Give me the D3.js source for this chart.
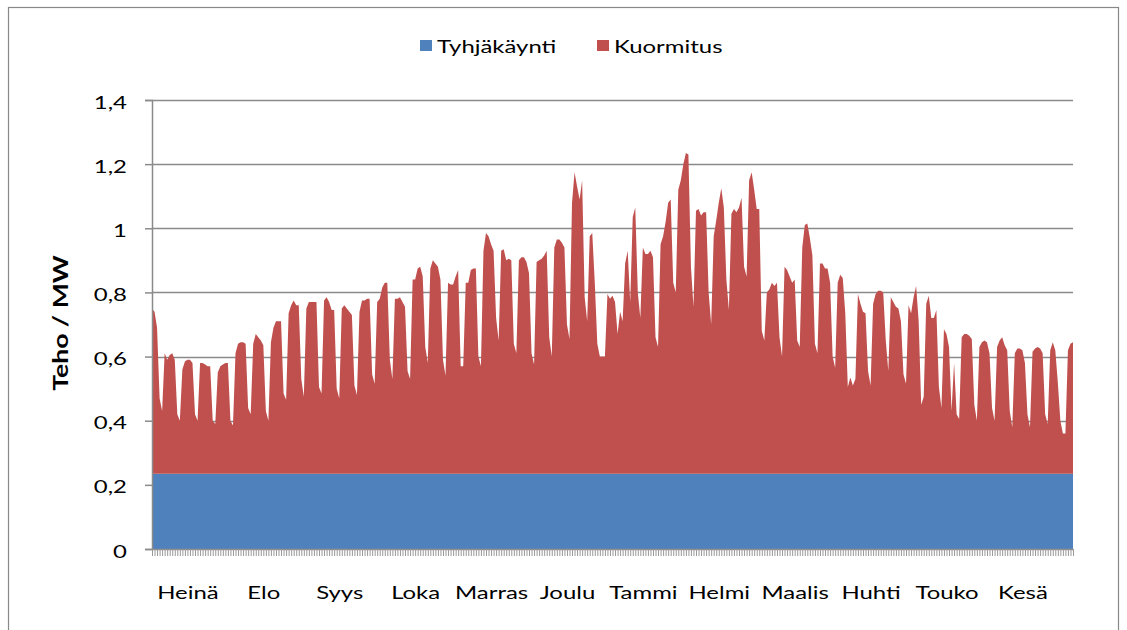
<!DOCTYPE html>
<html>
<head>
<meta charset="utf-8">
<script src="https://cdn.jsdelivr.net/npm/d3@7/dist/d3.min.js"></script>
<style>
  body { margin: 0; background: #fff; }
  text { font-family: Lato, "Open Sans", sans-serif; fill: #000; }
</style>
</head>
<body>
<script>
// tyhjäkäyntiteho (vakio) ja päivittäiset kokonaistehot 1.7.–30.6. (MW)
const tyhjakaynti = 0.235;
const kokonaisteho = [
  0.75, 0.74, 0.69, 0.47, 0.43,                 // ke 1.7. - su 5.7.
  0.61, 0.59, 0.605, 0.61, 0.59, 0.42, 0.40,
  0.56, 0.585, 0.59, 0.59, 0.58, 0.42, 0.40,
  0.58, 0.58, 0.575, 0.57, 0.57, 0.40, 0.39,
  0.55, 0.57, 0.575, 0.58, 0.58, 0.40, 0.385,
  0.61, 0.64, 0.645, 0.645, 0.64, 0.44, 0.42,   // elo
  0.64, 0.67, 0.66, 0.65, 0.635, 0.43, 0.40,
  0.645, 0.69, 0.71, 0.71, 0.71, 0.485, 0.465,
  0.735, 0.76, 0.775, 0.76, 0.76, 0.53, 0.475,
  0.75, 0.77, 0.77, 0.77, 0.77, 0.505, 0.485,   // syys
  0.775, 0.785, 0.77, 0.745, 0.745, 0.50, 0.47,
  0.75, 0.76, 0.75, 0.74, 0.73, 0.51, 0.48,
  0.74, 0.775, 0.775, 0.78, 0.78, 0.545, 0.515,
  0.77, 0.78, 0.815, 0.83, 0.83, 0.59, 0.53,
  0.78, 0.78, 0.785, 0.77, 0.755, 0.555, 0.53,  // loka
  0.84, 0.84, 0.875, 0.88, 0.85, 0.63, 0.58,
  0.875, 0.90, 0.89, 0.88, 0.84, 0.59, 0.54,
  0.83, 0.825, 0.825, 0.85, 0.87, 0.57, 0.57,
  0.83, 0.83, 0.87, 0.875, 0.875, 0.60, 0.57,   // marras
  0.93, 0.985, 0.975, 0.95, 0.93, 0.72, 0.65,
  0.93, 0.935, 0.90, 0.905, 0.90, 0.64, 0.61,
  0.90, 0.91, 0.91, 0.895, 0.86, 0.61, 0.575,
  0.895, 0.90, 0.905, 0.915, 0.93, 0.66, 0.60,
  0.94, 0.965, 0.965, 0.955, 0.94, 0.70, 0.655, // joulu
  1.08, 1.175, 1.13, 1.09, 1.15, 0.785, 0.71,
  0.975, 0.985, 0.83, 0.64, 0.60, 0.60, 0.60,
  0.795, 0.78, 0.79, 0.77, 0.67, 0.74, 0.71,
  0.89, 0.93, 0.77, 1.035, 1.065, 0.80, 0.72,   // tammi
  0.94, 0.92, 0.92, 0.93, 0.91, 0.66, 0.63,
  0.95, 0.975, 1.02, 1.08, 1.09, 0.83, 0.80,
  1.12, 1.15, 1.20, 1.235, 1.23, 0.88, 0.755,
  1.055, 1.06, 1.04, 1.05, 1.05, 0.80, 0.70,    // helmi
  0.975, 1.025, 1.08, 1.125, 1.065, 0.84, 0.745,
  1.045, 1.06, 1.05, 1.065, 1.095, 0.88, 0.85,
  1.15, 1.175, 1.12, 1.06, 1.06, 0.68, 0.65,
  0.80, 0.81, 0.83, 0.82, 0.83, 0.66, 0.60,     // maalis
  0.88, 0.87, 0.85, 0.83, 0.84, 0.65, 0.63,
  0.94, 1.01, 1.015, 0.97, 0.915, 0.64, 0.61,
  0.89, 0.89, 0.875, 0.875, 0.83, 0.60, 0.565,
  0.83, 0.855, 0.845, 0.735, 0.505, 0.535, 0.51,
  0.53, 0.795, 0.765, 0.74, 0.735, 0.555, 0.51, // huhti
  0.765, 0.795, 0.805, 0.805, 0.80, 0.65, 0.555,
  0.785, 0.77, 0.755, 0.75, 0.71, 0.545, 0.515,
  0.76, 0.735, 0.785, 0.82, 0.71, 0.45, 0.475,
  0.765, 0.79, 0.72, 0.72, 0.745, 0.505, 0.44,  // touko
  0.685, 0.67, 0.63, 0.43, 0.58, 0.42, 0.405,
  0.66, 0.67, 0.67, 0.665, 0.655, 0.45, 0.40,
  0.63, 0.645, 0.65, 0.645, 0.61, 0.44, 0.40,
  0.63, 0.65, 0.66, 0.635, 0.62, 0.43, 0.38,
  0.61, 0.625, 0.625, 0.62, 0.58, 0.42, 0.38,   // kesä
  0.615, 0.625, 0.63, 0.625, 0.61, 0.42, 0.39,
  0.62, 0.645, 0.62, 0.52, 0.40, 0.36, 0.36,
  0.62, 0.64, 0.645
];
const kuukaudet = ["Heinä", "Elo", "Syys", "Loka", "Marras", "Joulu",
  "Tammi", "Helmi", "Maalis", "Huhti", "Touko", "Kesä"];
const tunnistePaivat = [14, 44, 74, 104, 134, 164, 194, 224, 254, 284, 314, 344];
const yTikit = [0, 0.2, 0.4, 0.6, 0.8, 1, 1.2, 1.4];
const sarjat = ["Tyhjäkäynti", "Kuormitus"];
const varit = ["#4F81BD", "#C0504D"];

const width = 1127, height = 630;
const plot = { left: 152, right: 1073, top: 100, bottom: 549 };
const venytys = 1.33;   // kuvan tekstit ovat venyneitä
const fontSize = 18;

const svg = d3.select("body").append("svg")
  .attr("width", width)
  .attr("height", height);

// kaavion reunus
svg.append("rect")
  .attr("x", 8.5).attr("y", 7.5)
  .attr("width", 1110).attr("height", 650)
  .attr("fill", "none")
  .attr("stroke", "#888")
  .attr("stroke-width", 1.2);

const rivit = kokonaisteho.map((v, i) => ({
  paiva: i,
  "Tyhjäkäynti": tyhjakaynti,
  "Kuormitus": v - tyhjakaynti
}));

const xScale = d3.scaleLinear()
  .domain([0, rivit.length - 1])
  .range([plot.left, plot.right]);
const yScale = d3.scaleLinear()
  .domain([0, 1.4])
  .range([plot.bottom, plot.top]);

const fi = d3.formatLocale({ decimal: ",", thousands: " ", grouping: [3], currency: ["", " €"] });
const yFormat = fi.format(".1~f");

// vaakaviivasto
svg.append("g")
  .selectAll("line")
  .data(yTikit.filter(d => d > 0))
  .join("line")
  .attr("x1", plot.left).attr("x2", plot.right)
  .attr("y1", d => Math.round(yScale(d)) + 0.5)
  .attr("y2", d => Math.round(yScale(d)) + 0.5)
  .attr("stroke", "#8a8a8a")
  .attr("stroke-width", 1.5);

// pinotut alueet
const pino = d3.stack().keys(sarjat)(rivit);
const alue = d3.area()
  .x(d => xScale(d.data.paiva))
  .y0(d => yScale(d[0]))
  .y1(d => yScale(d[1]));

svg.append("g")
  .selectAll("path")
  .data(pino)
  .join("path")
  .attr("fill", (d, i) => varit[i])
  .attr("d", alue);

// y-akseli
const yAxis = svg.append("g")
  .attr("transform", `translate(${plot.left},0)`)
  .call(d3.axisLeft(yScale).tickValues(yTikit).tickSize(7).tickFormat(yFormat));
yAxis.select(".domain").attr("stroke", "#8a8a8a").attr("stroke-width", 1.5);
yAxis.selectAll(".tick line").attr("stroke", "#8a8a8a").attr("stroke-width", 1.5);
yAxis.selectAll(".tick text")
  .attr("x", 0).attr("dy", null).attr("y", 8)
  .attr("transform", `translate(-25,0) scale(${venytys},1)`)
  .style("font-size", fontSize + "px")
  .style("font-family", null);

// x-akseli: tikki joka päivälle
const xAxis = svg.append("g")
  .attr("transform", `translate(0,${plot.bottom})`)
  .call(d3.axisBottom(xScale).tickValues(d3.range(rivit.length)).tickSize(7).tickSizeOuter(0).tickFormat(""));
xAxis.select(".domain").attr("stroke", "#8a8a8a").attr("stroke-width", 1.5);
xAxis.selectAll(".tick line").attr("stroke", "#999");

// kuukausien nimet
const xLabels = svg.append("g")
  .attr("transform", `translate(0,${plot.bottom})`)
  .call(d3.axisBottom(xScale).tickValues(tunnistePaivat).tickSize(0)
    .tickFormat((d, i) => kuukaudet[i]));
xLabels.select(".domain").remove();
xLabels.selectAll(".tick text")
  .attr("y", 0).attr("dy", null)
  .attr("transform", `translate(0,50) scale(${venytys},1)`)
  .style("font-size", fontSize + "px")
  .style("font-family", null);

// y-akselin otsikko (venytys tekstin suuntaan)
svg.append("text")
  .attr("transform", `translate(68,323) rotate(-90) scale(${venytys},1)`)
  .attr("text-anchor", "middle")
  .style("font-size", "20px")
  .style("font-weight", "bold")
  .text("Teho / MW");

// selite
const selite = svg.append("g");
const seliteX = [420, 597];
sarjat.forEach((s, i) => {
  selite.append("rect")
    .attr("x", seliteX[i]).attr("y", 40)
    .attr("width", 12).attr("height", 11)
    .attr("fill", varit[i]);
  selite.append("text")
    .attr("transform", `translate(${seliteX[i] + 17},53) scale(${venytys},1)`)
    .style("font-size", fontSize + "px")
    .text(s);
});
</script>
</body>
</html>
